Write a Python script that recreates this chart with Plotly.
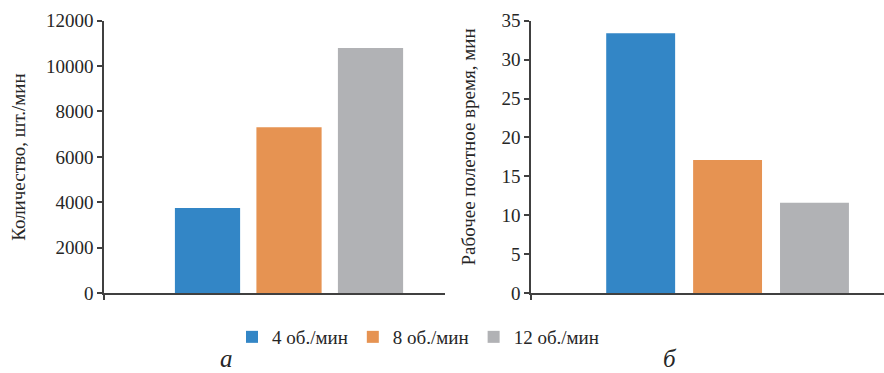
import plotly.graph_objects as go

series = ["4 об./мин", "8 об./мин", "12 об./мин"]
colors = ["#3386C6", "#E69352", "#B1B2B5"]
quantity = [3750, 7300, 10800]          # шт./мин
flight_time = [33.4, 17.1, 11.6]        # мин
y1_ticks = [0, 2000, 4000, 6000, 8000, 10000, 12000]
y2_ticks = [0, 5, 10, 15, 20, 25, 30, 35]

W, H = 884, 373
font_family = "Liberation Serif"
axis_color = "#404040"
text_color = "#262626"
tick_font = dict(family=font_family, size=19, color=text_color)

fig = go.Figure()
for i, (name, col) in enumerate(zip(series, colors)):
    fig.add_trace(go.Bar(x=[i], y=[quantity[i]], name=name, marker_color=col,
                         marker_line_width=0, width=0.8, xaxis="x", yaxis="y",
                         showlegend=True))
for i, (name, col) in enumerate(zip(series, colors)):
    fig.add_trace(go.Bar(x=[i], y=[flight_time[i]], name=name, marker_color=col,
                         marker_line_width=0, width=0.793, xaxis="x2", yaxis="y2",
                         showlegend=False))

ydom = [1 - 293 / H, 1 - 20.7 / H]
x1r = [-1.27, 2.914]
x2r = [-1.262, 2.80]

common_x = dict(showline=True, linecolor=axis_color, linewidth=1.5, showgrid=False,
                zeroline=False, showticklabels=False, ticks="outside", ticklen=5,
                tickcolor=axis_color, tickwidth=1.5, automargin=False)
common_y = dict(showline=True, linecolor=axis_color, linewidth=1.5, showgrid=False,
                zeroline=False, ticks="outside", ticklen=5, tickcolor=axis_color,
                tickwidth=1.5, tickfont=tick_font, tickformat="d", automargin=False)

fig.update_layout(
    width=W, height=H,
    margin=dict(l=0, r=0, t=0, b=0, autoexpand=False),
    paper_bgcolor="white", plot_bgcolor="white",
    barmode="overlay",
    font=dict(family=font_family, color=text_color),
    xaxis=dict(domain=[104 / W, 445 / W], range=x1r, tickvals=[x1r[0]], anchor="y", **common_x),
    yaxis=dict(domain=ydom, range=[0, 12000], tickvals=y1_ticks, anchor="x", **common_y),
    xaxis2=dict(domain=[531 / W, 1.0], range=x2r, tickvals=[x2r[0]], anchor="y2", **common_x),
    yaxis2=dict(domain=ydom, range=[0, 35], tickvals=y2_ticks, anchor="x2", **common_y),
    legend=dict(orientation="h", x=232 / W, xanchor="left", y=1 - 337 / H, yanchor="middle",
                font=dict(family=font_family, size=19, color=text_color),
                itemwidth=30, traceorder="normal", bgcolor="rgba(0,0,0,0)"),
    showlegend=True,
    annotations=[
        dict(text="Количество, шт./мин", x=19 / W, y=(ydom[0] + ydom[1]) / 2, xref="paper",
             yref="paper", textangle=-90, showarrow=False, xanchor="center", yanchor="middle",
             font=dict(family=font_family, size=19, color=text_color)),
        dict(text="Рабочее полетное время, мин", x=468 / W, y=1 - 147.5 / H, xref="paper",
             yref="paper", textangle=-90, showarrow=False, xanchor="center", yanchor="middle",
             font=dict(family=font_family, size=19, color=text_color)),
        dict(text="<i>а</i>", x=226.5 / W, y=1 - 358 / H, xref="paper", yref="paper",
             showarrow=False, xanchor="center", yanchor="middle",
             font=dict(family=font_family, size=25, color=text_color)),
        dict(text="<i>б</i>", x=670 / W, y=1 - 358 / H, xref="paper", yref="paper",
             showarrow=False, xanchor="center", yanchor="middle",
             font=dict(family=font_family, size=25, color=text_color)),
    ],
)

fig.write_html("out.html")
